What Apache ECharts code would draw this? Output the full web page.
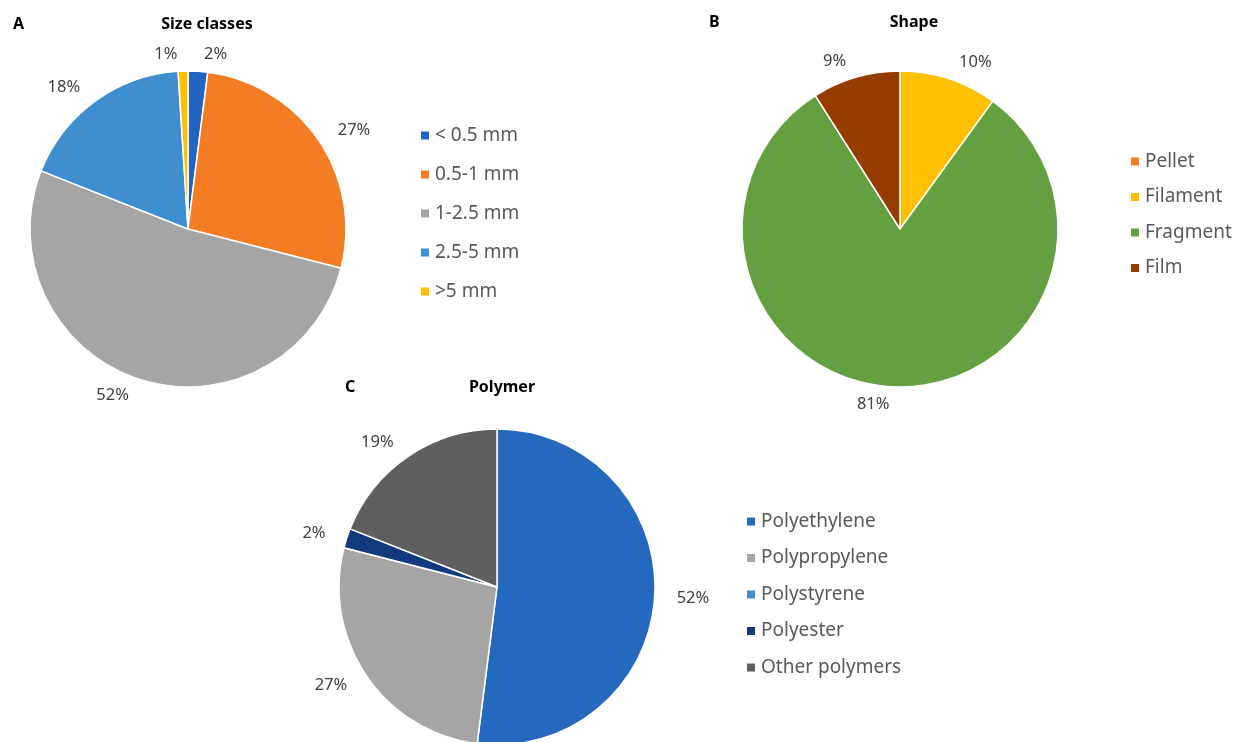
<!DOCTYPE html>
<html>
<head>
<meta charset="utf-8">
<script src="https://cdn.jsdelivr.net/npm/echarts@6/dist/echarts.min.js"></script>
<style>
  html, body { margin: 0; padding: 0; background: #fff; }
  #chart { width: 1237px; height: 742px; }
</style>
</head>
<body>
<div id="chart"></div>
<script>
// A - size classes
const sizeNames = ['< 0.5 mm', '0.5-1 mm', '1-2.5 mm', '2.5-5 mm', '>5 mm']
const sizeValues = [2, 27, 52, 18, 1]
const sizeColors = ['#2264c0', '#f47c22', '#a5a5a5', '#3f8fd0', '#ffc000']

// B - shape
const shapeNames = ['Pellet', 'Filament', 'Fragment', 'Film']
const shapeValues = [0, 10, 81, 9]
const shapeColors = ['#f47c22', '#ffc000', '#64a040', '#973c00']

// C - polymer
const polyNames = ['Polyethylene', 'Polypropylene', 'Polystyrene', 'Polyester', 'Other polymers']
const polyValues = [52, 27, 0, 2, 19]
const polyColors = ['#2468c0', '#a5a5a5', '#3f8fd0', '#113b7c', '#5f5f5f']

const FONT = '"Noto Sans", "Open Sans", sans-serif'

function buildData(names, values) {
  let out = []
  for (let i in names) {
    let item = { name: names[i], value: values[i] }
    if (values[i] === 0) item.label = { show: false }
    out.push(item)
  }
  return out
}

function pieSeries(names, values, colors, center) {
  return {
    type: 'pie',
    center: center,
    radius: 158,
    startAngle: 90,
    clockwise: true,
    color: colors,
    avoidLabelOverlap: true,
    itemStyle: { borderColor: '#fff', borderWidth: 1.5 },
    label: {
      show: true,
      position: 'outside',
      formatter: '{c}%',
      fontFamily: FONT,
      fontSize: 16.5,
      color: '#404040'
    },
    labelLine: { show: false, length: 17, length2: 0 },
    emphasis: { disabled: true },
    data: buildData(names, values)
  }
}

function legendFor(names, left, top, gap) {
  return {
    orient: 'vertical',
    left: left,
    top: top,
    itemWidth: 10,
    itemHeight: 10,
    itemGap: gap,
    icon: 'rect',
    selectedMode: false,
    data: names,
    textStyle: { fontFamily: FONT, fontSize: 19, color: '#595959' }
  }
}

const boldText = { fontFamily: FONT, fontSize: 16, fontWeight: 'bold', color: '#000' }

let chart = echarts.init(document.getElementById('chart'))
let option = {
  backgroundColor: '#fff',
  animation: false,
  title: [
    { text: 'A', left: 8, top: 11, textStyle: boldText },
    { text: 'Size classes', left: 202, top: 11, textAlign: 'center', textStyle: boldText },
    { text: 'B', left: 704, top: 9, textStyle: boldText },
    { text: 'Shape', left: 909, top: 9, textAlign: 'center', textStyle: boldText },
    { text: 'C', left: 340, top: 374, textStyle: boldText },
    { text: 'Polymer', left: 497, top: 374, textAlign: 'center', textStyle: boldText }
  ],
  legend: [
    legendFor(sizeNames, 414, 121, 20),
    legendFor(shapeNames, 1124, 147, 16.5),
    legendFor(polyNames, 740, 507, 17.5)
  ],
  series: [
    pieSeries(sizeNames, sizeValues, sizeColors, [188, 229]),
    pieSeries(shapeNames, shapeValues, shapeColors, [900, 229]),
    pieSeries(polyNames, polyValues, polyColors, [497, 587])
  ]
}
chart.setOption(option)
window.addEventListener('resize', () => { chart.resize() })
</script>
</body>
</html>
